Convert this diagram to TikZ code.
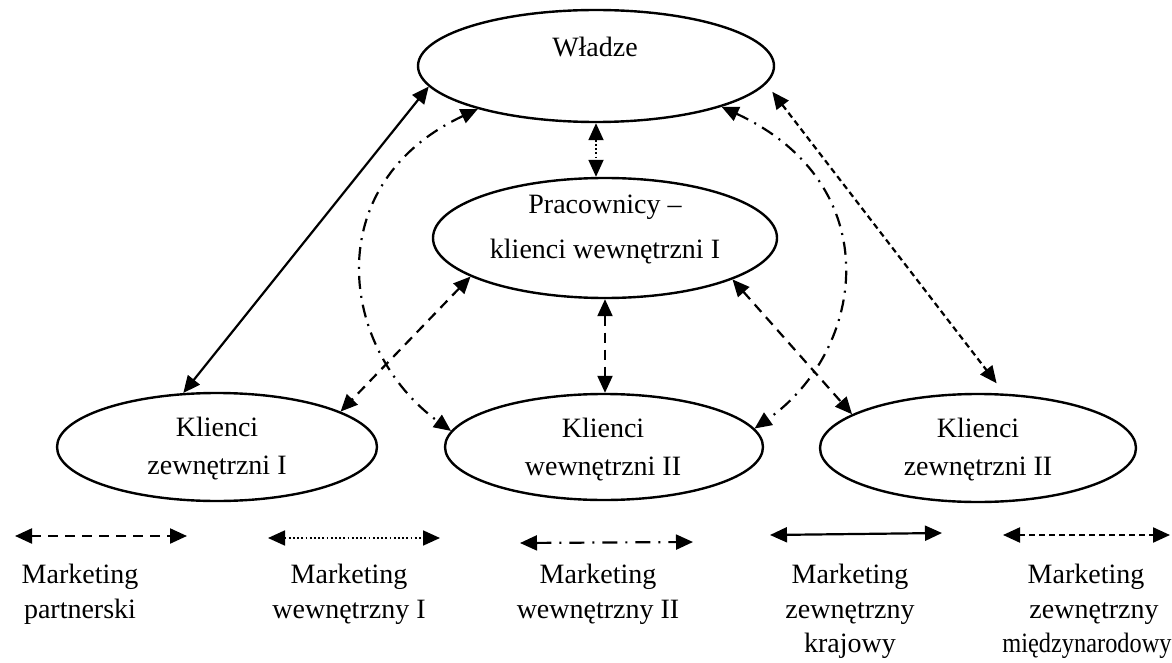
\documentclass[tikz,border=0pt]{standalone}
\usepackage{fontspec}
\setmainfont{Liberation Serif}
\usetikzlibrary{shapes.geometric,arrows.meta}
\begin{document}
\begin{tikzpicture}[x=1pt,y=-1pt,
  every node/.style={font=\fontsize{28}{34}\selectfont},
  oval/.style={draw,ellipse,line width=2.4pt,inner sep=0pt},
  lbl/.style={anchor=base,inner sep=0pt},
  link/.style={line width=2.2pt,
    {Triangle[length=17pt,width=15pt]}-{Triangle[length=17pt,width=15pt]}},
  partner/.style={link,dash pattern=on 10pt off 7pt},
  internalI/.style={link,line width=1.8pt,dash pattern=on 1.8pt off 2.4pt},
  internalII/.style={link,dash pattern=on 13pt off 7pt on 2pt off 7pt},
  domestic/.style={link},
  abroad/.style={link,dash pattern=on 6pt off 4pt},
]
\useasboundingbox (0,0) rectangle (1172,663);

% the five groups
\node[oval,minimum width=356pt,minimum height=112pt] (wl) at (596,66) {};
\node[oval,minimum width=344pt,minimum height=120pt] (pr) at (605,238) {};
\node[oval,minimum width=320pt,minimum height=108pt] (kz1) at (217,447) {};
\node[oval,minimum width=318pt,minimum height=106pt] (kw2) at (604,447) {};
\node[oval,minimum width=316pt,minimum height=108pt] (kz2) at (978,448) {};

% their names
\node[lbl] (wlt) at (595,57) {Władze};
\node[lbl] (prt1) at (605,213) {Pracownicy –};
\node[lbl] (prt2) at (605,258) {klienci wewnętrzni I};
\node[lbl] (kz1t1) at (217,436) {Klienci};
\node[lbl] (kz1t2) at (217,474) {zewnętrzni I};
\node[lbl] (kw2t1) at (603,437) {Klienci};
\node[lbl] (kw2t2) at (603,475) {wewnętrzni II};
\node[lbl] (kz2t1) at (978,437) {Klienci};
\node[lbl] (kz2t2) at (978,475) {zewnętrzni II};

% relations between the groups
\draw[domestic] (wl.187) -- (kz1.122);
\draw[abroad,shorten <=10pt,shorten >=13pt] (wl.354) -- (kz2.64);
\draw[internalI] (wl.south) -- (wl.south |- pr.north);
\draw[partner] (pr.196) -- (kz1.16);
\draw[partner] (pr.south) -- (pr.south |- kw2.north);
\draw[partner] (pr.342) -- (kz2.165);
\draw[internalII] (wl.200) .. controls (318,184) and (339,349) .. (kw2.174);
\draw[internalII] (wl.342) .. controls (888,184) and (867,349) .. (kw2.7);

% key
\coordinate (k1a) at (15,536);   \coordinate (k1b) at (187,536);
\coordinate (k2a) at (268,538);  \coordinate (k2b) at (440,538);
\coordinate (k3a) at (520,543);  \coordinate (k3b) at (693,542);
\coordinate (k4a) at (770,535);  \coordinate (k4b) at (942,533);
\coordinate (k5a) at (1003,535); \coordinate (k5b) at (1170,535);
\draw[partner] (k1a) -- (k1b);
\draw[internalI] (k2a) -- (k2b);
\draw[internalII,dash pattern=on 15pt off 8pt on 2pt off 8pt] (k3a) -- (k3b);
\draw[domestic] (k4a) -- (k4b);
\draw[abroad] (k5a) -- (k5b);

\node[lbl] (m1a) at (80,583) {Marketing};
\node[lbl] (m1b) at (80,618) {partnerski};
\node[lbl] (m2a) at (349,583) {Marketing};
\node[lbl] (m2b) at (349,618) {wewnętrzny I};
\node[lbl] (m3a) at (598,583) {Marketing};
\node[lbl] (m3b) at (598,618) {wewnętrzny II};
\node[lbl] (m4a) at (850,583) {Marketing};
\node[lbl] (m4b) at (850,618) {zewnętrzny};
\node[lbl] (m4c) at (850,652) {krajowy};
\node[lbl] (m5a) at (1086,583) {Marketing};
\node[lbl] (m5b) at (1094,618) {zewnętrzny};
\node[lbl] (m5c) at (1087,652) {\scalebox{0.87}[1]{międzynarodowy}};
\end{tikzpicture}
\end{document}
